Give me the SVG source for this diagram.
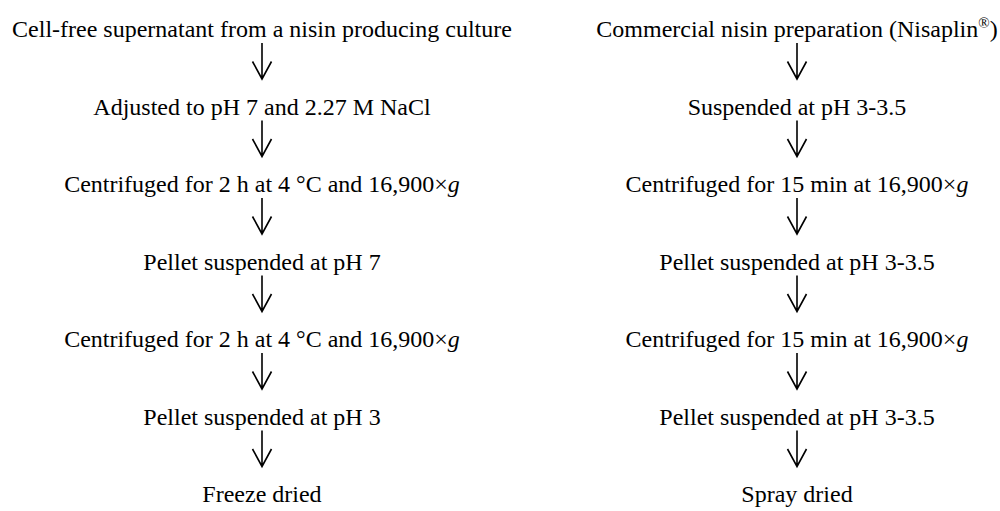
<svg xmlns="http://www.w3.org/2000/svg" width="1000" height="511" viewBox="0 0 1000 511">
<style>
text{font-family:"Liberation Serif","Times New Roman",serif;font-size:24px;fill:#000;text-anchor:middle}
.i{font-style:italic}
.arr{fill:none;stroke:#000;stroke-width:1.6}
</style>
<defs>
<g id="arrow"><path class="arr" d="M0,0 V36 M-9.5,18.5 L0,36 L9.5,18.5"/></g>
</defs>
<rect width="1000" height="511" fill="#fff"/>
<g id="connectors">
<use href="#arrow" x="262" y="43"/>
<use href="#arrow" x="262" y="120.5"/>
<use href="#arrow" x="262" y="198"/>
<use href="#arrow" x="262" y="275.5"/>
<use href="#arrow" x="262" y="353"/>
<use href="#arrow" x="262" y="430.5"/>
<use href="#arrow" x="797" y="43"/>
<use href="#arrow" x="797" y="120.5"/>
<use href="#arrow" x="797" y="198"/>
<use href="#arrow" x="797" y="275.5"/>
<use href="#arrow" x="797" y="353"/>
<use href="#arrow" x="797" y="430.5"/>
</g>
<g id="L1"><text x="262" y="37">Cell-free supernatant from a nisin producing culture</text></g>
<g id="L2"><text x="262" y="114.5">Adjusted to pH 7 and 2.27 M NaCl</text></g>
<g id="L3"><text x="262" y="192">Centrifuged for 2 h at 4 °C and 16,900×<tspan class="i">g</tspan></text></g>
<g id="L4"><text x="262" y="269.5">Pellet suspended at pH 7</text></g>
<g id="L5"><text x="262" y="347">Centrifuged for 2 h at 4 °C and 16,900×<tspan class="i">g</tspan></text></g>
<g id="L6"><text x="262" y="424.5">Pellet suspended at pH 3</text></g>
<g id="L7"><text x="262" y="502">Freeze dried</text></g>
<g id="R1"><text x="797" y="37">Commercial nisin preparation (Nisaplin<tspan font-size="15" dy="-9">®</tspan><tspan dy="9">)</tspan></text></g>
<g id="R2"><text x="797" y="114.5">Suspended at pH 3-3.5</text></g>
<g id="R3"><text x="797" y="192">Centrifuged for 15 min at 16,900×<tspan class="i">g</tspan></text></g>
<g id="R4"><text x="797" y="269.5">Pellet suspended at pH 3-3.5</text></g>
<g id="R5"><text x="797" y="347">Centrifuged for 15 min at 16,900×<tspan class="i">g</tspan></text></g>
<g id="R6"><text x="797" y="424.5">Pellet suspended at pH 3-3.5</text></g>
<g id="R7"><text x="797" y="502">Spray dried</text></g>
</svg>
